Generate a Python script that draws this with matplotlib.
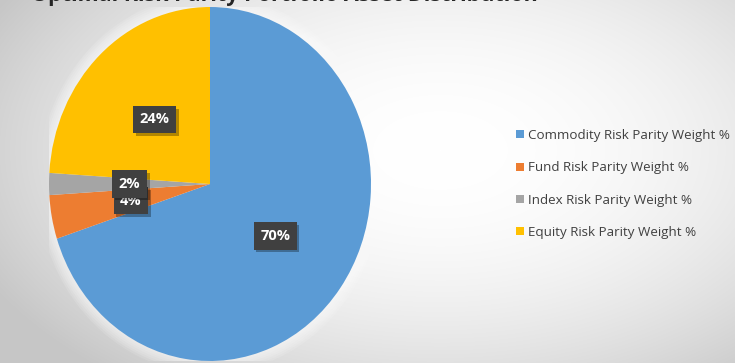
import numpy as np
import matplotlib
matplotlib.use("Agg")
import matplotlib.pyplot as plt
from matplotlib.patches import Patch
from matplotlib import patheffects as pe

# Portfolio weights (percent)
categories = ["Commodity Risk Parity Weight %", "Fund Risk Parity Weight %",
              "Index Risk Parity Weight %", "Equity Risk Parity Weight %"]
weights = [70, 4, 2, 24]
colors = ["#5b9bd5", "#ed7d31", "#a5a5a5", "#ffc000"]
title_text = "Optimal Risk Parity Portfolio Asset Distribution"

W, H = 735, 363
fig = plt.figure(figsize=(W / 100, H / 100), dpi=100)

# Background: soft radial gradient
bg = fig.add_axes([0, 0, 1, 1])
yy, xx = np.mgrid[0:H, 0:W]
d2 = ((xx - 440) / 480.0) ** 2 + ((yy - 150) / 280.0) ** 2
shade = np.clip(1.0 - 0.2 * d2, 0.78, 1.0)
bg.imshow(np.dstack([shade] * 3), extent=(0, W, H, 0), aspect="auto")
bg.set_xlim(0, W)
bg.set_ylim(H, 0)
bg.axis("off")

# Title, partly cut off at the top edge
bg.text(538, 6, title_text, ha="right", va="bottom", fontsize=15.5,
        fontweight="bold", family="Open Sans", color="#262626")

# Pie axes (slightly taller than wide)
cx, cy, rx, ry = 210, 184, 161, 177
pax = fig.add_axes([(cx - rx) / W, (H - cy - ry) / H, 2 * rx / W, 2 * ry / H])
pax.patch.set_alpha(0)

# soft halo behind the pie
for k in np.linspace(1.07, 1.0, 7):
    pax.add_patch(plt.Circle((0, 0), k, color="#ffffff", alpha=0.12, lw=0))

wedges, texts, autotexts = pax.pie(
    weights, colors=colors, startangle=90, counterclock=False,
    autopct=lambda p: f"{p:.0f}%", pctdistance=0.5,
    wedgeprops=dict(linewidth=0),
    textprops=dict(color="white", fontsize=10.5, fontweight="bold",
                   family="Open Sans"))
pax.set_aspect("auto")
pax.set_xlim(-1, 1)
pax.set_ylim(-1, 1)
pax.axis("off")

for t in autotexts:
    t.set_bbox(dict(boxstyle="square,pad=0.45", facecolor="#404040",
                    edgecolor="none"))
    t.get_bbox_patch().set_path_effects(
        [pe.withSimplePatchShadow(offset=(2, -2), shadow_rgbFace="#000000",
                                  alpha=0.3)])

# Legend
handles = [Patch(facecolor=c, edgecolor="none") for c in colors]
fig.legend(handles, categories, loc="center left",
           bbox_to_anchor=(511 / W, 1 - 184 / H), frameon=False,
           prop=dict(family="Open Sans", size=9.6),
           labelcolor="#404040", handlelength=0.55, handleheight=0.55,
           handletextpad=0.3, labelspacing=1.45, borderaxespad=0)

fig.savefig("out.png", dpi=100)
